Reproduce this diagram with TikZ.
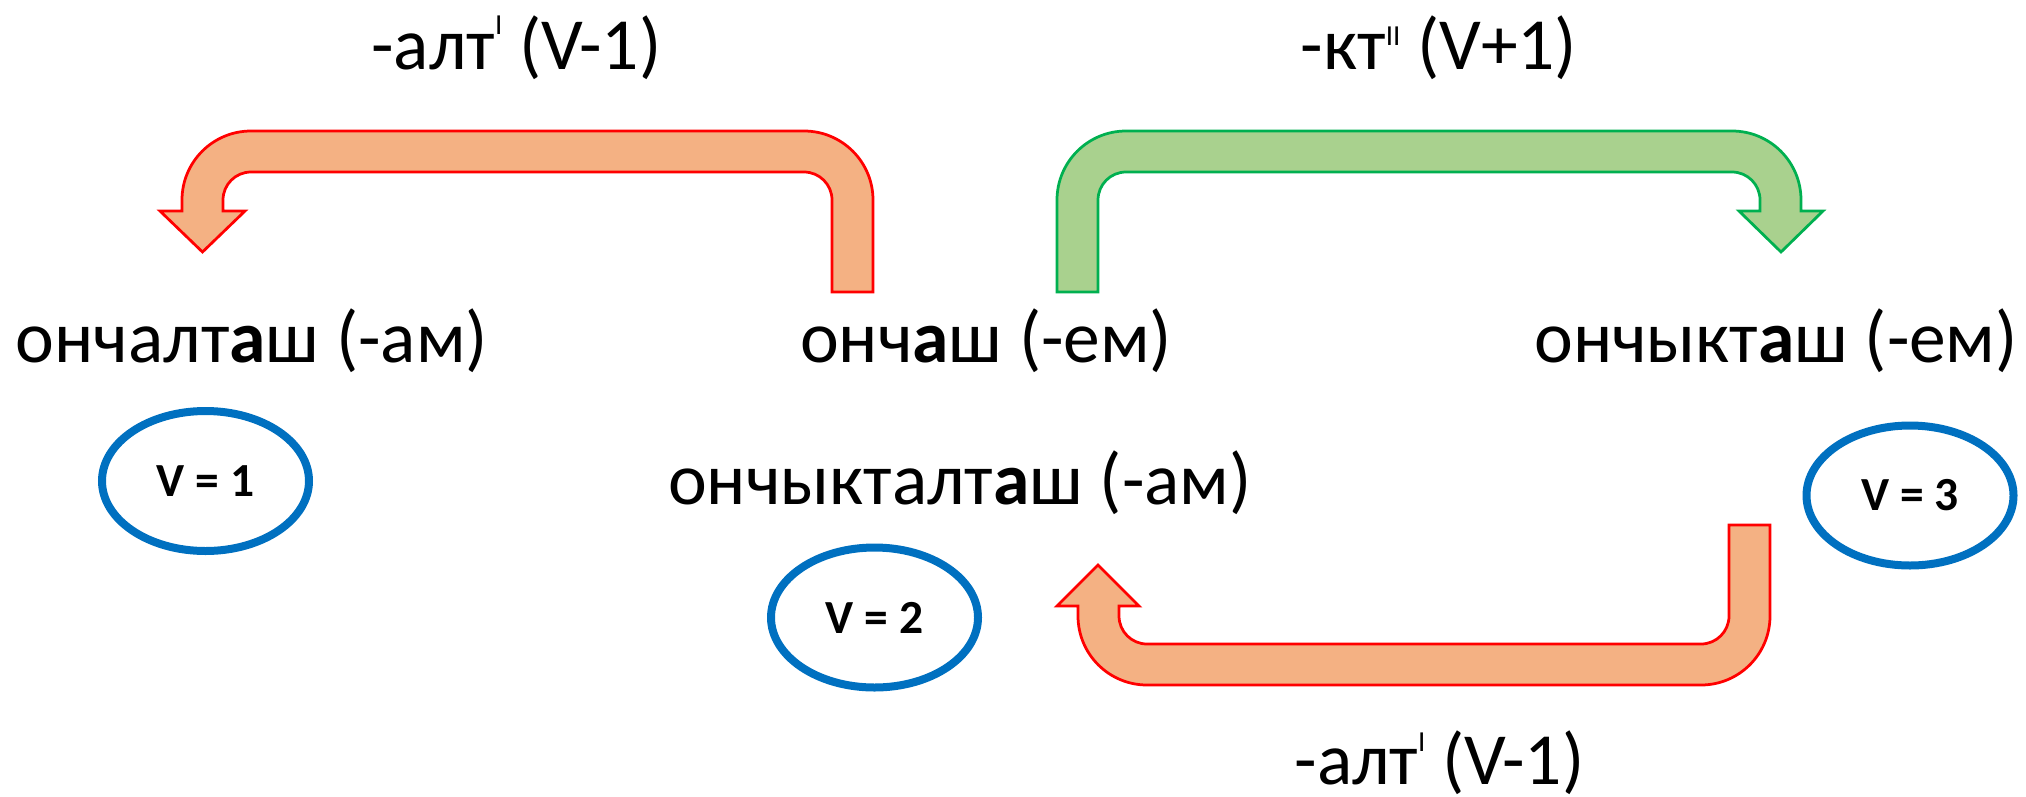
\documentclass[tikz,border=0pt]{standalone}
\usepackage{fontspec}
\setmainfont{Carlito}
\usetikzlibrary{shapes.geometric}
\definecolor{redline}{HTML}{FF0000}
\definecolor{redfill}{HTML}{F4B183}
\definecolor{greenline}{HTML}{00B050}
\definecolor{greenfill}{HTML}{A9D18E}
\definecolor{blueline}{HTML}{0070C0}
\newcommand{\supI}[2]{\raisebox{#1pt}{\fontsize{29}{29}\selectfont #2}}
\begin{document}
\begin{tikzpicture}[x=1pt,y=1pt,
  wordtext/.style={inner sep=0pt,anchor=base,font=\fontsize{73.5}{80}\selectfont},
  redarrow/.style={draw=redline,fill=redfill,line width=2.75pt,line join=miter},
  greenarrow/.style={draw=greenline,fill=greenfill,line width=2.75pt,line join=miter},
  vell/.style={ellipse,draw=blueline,line width=8pt,minimum width=207pt,minimum height=140pt,inner sep=0pt,font=\fontsize{47.5}{50}\selectfont\bfseries}]
\useasboundingbox (0,0) rectangle (2026,-796);
% top-left red arrow
\path[redarrow] (873,-292) -- (873,-200) arc[start angle=0,end angle=90,radius=69]
  -- (251,-131) arc[start angle=90,end angle=180,radius=69]
  -- (182,-211) -- (160,-211) -- (202.5,-252) -- (245,-211) -- (223,-211)
  -- (223,-200) arc[start angle=180,end angle=90,radius=28]
  -- (804,-172) arc[start angle=90,end angle=0,radius=28]
  -- (832,-292) -- cycle;
% top-right green arrow
\path[greenarrow] (1057,-292) -- (1057,-200) arc[start angle=180,end angle=90,radius=69]
  -- (1732,-131) arc[start angle=90,end angle=0,radius=69]
  -- (1801,-211) -- (1823,-211) -- (1781,-252) -- (1739,-211) -- (1760,-211)
  -- (1760,-200) arc[start angle=0,end angle=90,radius=28]
  -- (1126,-172) arc[start angle=90,end angle=180,radius=28]
  -- (1098,-292) -- cycle;
% bottom red arrow
\path[redarrow] (1770,-525) -- (1770,-616) arc[start angle=0,end angle=-90,radius=69]
  -- (1147,-685) arc[start angle=270,end angle=180,radius=69]
  -- (1078,-606) -- (1057,-606) -- (1098,-565) -- (1139,-606) -- (1119,-606)
  -- (1119,-616) arc[start angle=180,end angle=270,radius=28]
  -- (1701,-644) arc[start angle=270,end angle=360,radius=28]
  -- (1729,-525) -- cycle;
% labels
\node[wordtext] (l1) at (516.5,-69) {-алт\supI{35}{I} (V-1)};
\node[wordtext] (l2) at (1439,-69) {-кт\supI{24}{II} (V+1)};
\node[wordtext] (l3) at (1439.5,-784) {-алт\supI{33}{I} (V-1)};
% words
\node[wordtext] (w1) at (252,-362) {ончалт\textbf{а}ш (-ам)};
\node[wordtext] (w2) at (986,-362) {онч\textbf{а}ш (-ем)};
\node[wordtext] (w3) at (1776,-362) {ончыкт\textbf{а}ш (-ем)};
\node[wordtext] (w4) at (960,-504) {ончыкталт\textbf{а}ш (-ам)};
% ellipses
\node[vell] (v1) at (205.5,-481) {V = 1};
\node[vell] (v2) at (874.5,-617.5) {V = 2};
\node[vell] (v3) at (1910,-495.5) {V = 3};
\end{tikzpicture}
\end{document}
